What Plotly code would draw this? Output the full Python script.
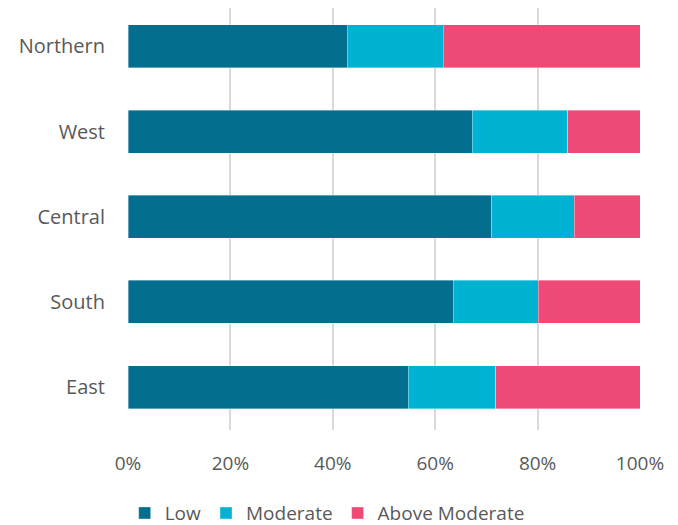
import plotly.graph_objects as go

regions = ["Northern", "West", "Central", "South", "East"]
low = [42.8, 67.2, 71.0, 63.5, 54.7]
moderate = [18.8, 18.7, 16.2, 16.6, 17.1]
above_moderate = [38.4, 14.1, 12.8, 19.9, 28.2]
tick_vals = [0, 20, 40, 60, 80, 100]
tick_text = ["0%", "20%", "40%", "60%", "80%", "100%"]

series = [
    ("Low", low, "#036E8E"),
    ("Moderate", moderate, "#00B2D1"),
    ("Above Moderate", above_moderate, "#EF4A76"),
]


def main():
    fig = go.Figure()
    for name, values, color in series:
        fig.add_trace(go.Bar(
            y=regions,
            x=values,
            name=name,
            orientation="h",
            marker=dict(color=color, line=dict(color="rgba(255,255,255,0.6)", width=0.6)),
        ))

    # page body adds 8px, so margins are shifted to compensate
    fig.update_layout(
        barmode="stack",
        bargap=0.495,
        width=678,
        height=525,
        margin=dict(l=120, r=46, t=0, b=103),
        plot_bgcolor="white",
        paper_bgcolor="white",
        font=dict(family="'Open Sans', Lato, sans-serif", size=18, color="#595959"),
        legend=dict(
            orientation="h",
            x=0.389,
            xanchor="center",
            y=-0.197,
            yanchor="middle",
            font=dict(size=19, color="#595959"),
            itemwidth=30,
            traceorder="normal",
        ),
        xaxis=dict(
            range=[0, 100],
            tickvals=tick_vals,
            ticktext=tick_text,
            tickfont=dict(size=19),
            showgrid=True,
            gridcolor="#D9D9D9",
            gridwidth=2,
            zeroline=False,
            showline=False,
            ticklabelstandoff=20,
        ),
        yaxis=dict(
            categoryorder="array",
            categoryarray=regions[::-1],
            range=[-0.505, 4.452],
            tickfont=dict(size=20),
            showgrid=False,
            zeroline=False,
            showline=False,
            ticklabelstandoff=22,
        ),
    )

    fig.write_html("out.html")


if __name__ == "__main__":
    main()
